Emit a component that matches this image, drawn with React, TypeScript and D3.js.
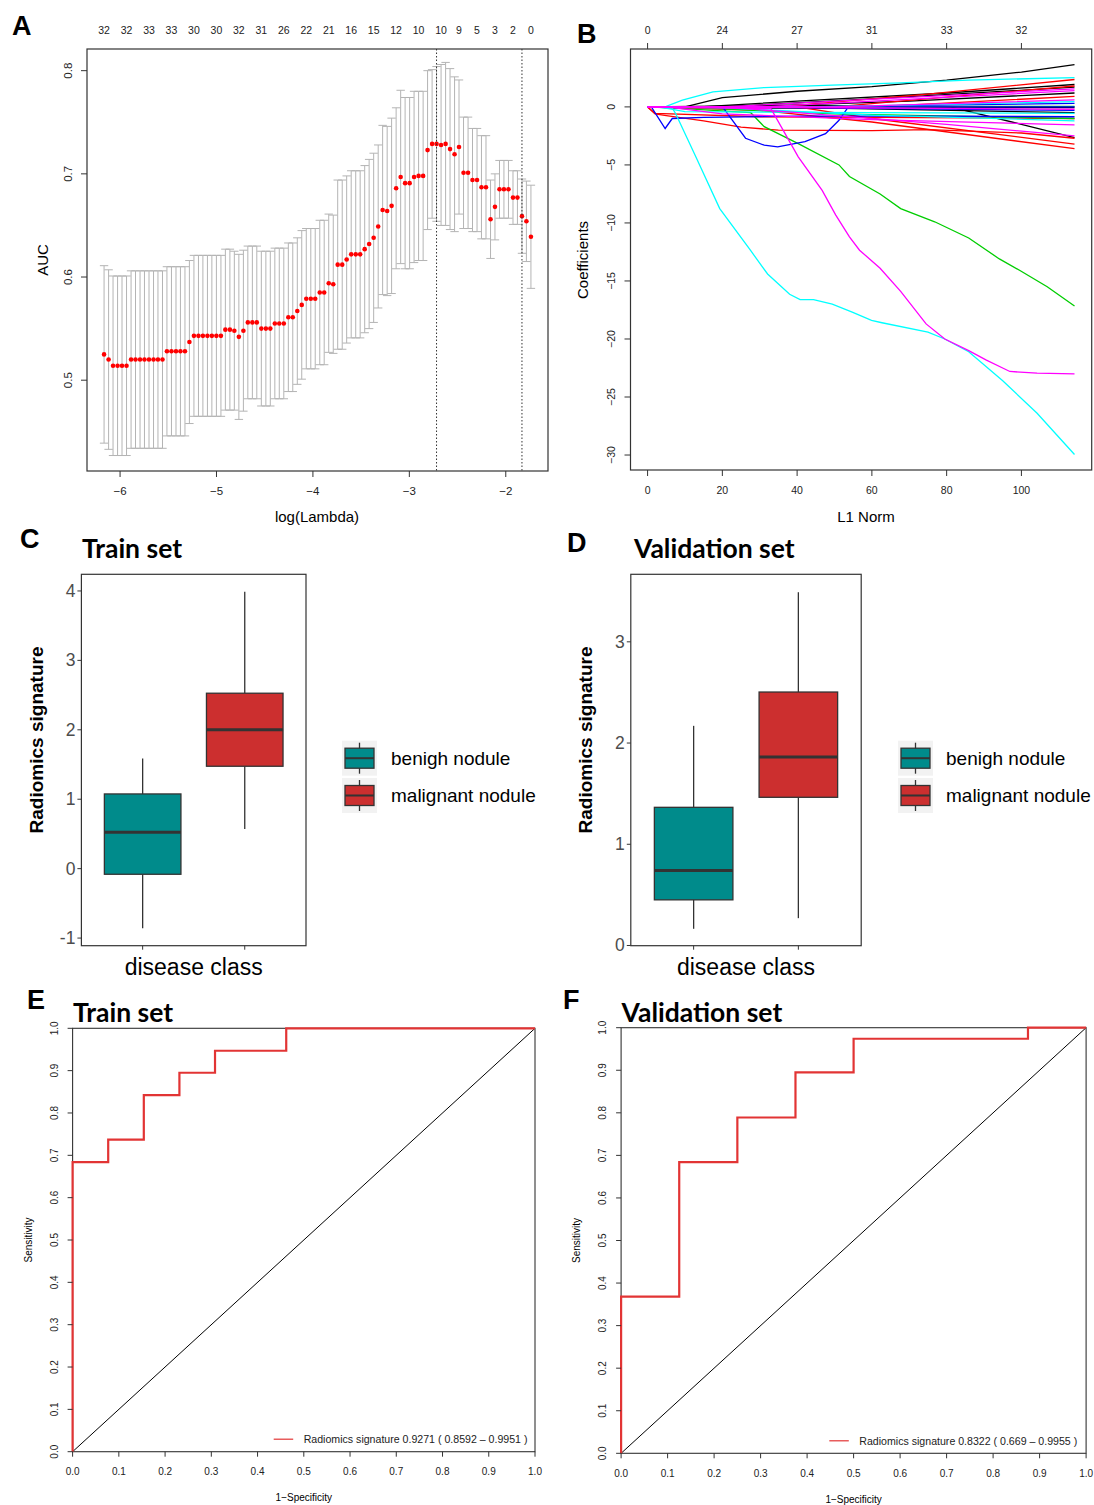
import React from 'react';
import * as d3 from 'd3';

// ---- panel A: cross-validated AUC vs log(lambda) ----
const logLambda = [
  -6.166, -6.119, -6.073, -6.026, -5.980, -5.933, -5.886, -5.840, -5.793, -5.747,
  -5.700, -5.653, -5.607, -5.560, -5.514, -5.467, -5.420, -5.374, -5.327, -5.281,
  -5.234, -5.187, -5.141, -5.094, -5.048, -5.001, -4.954, -4.908, -4.861, -4.815,
  -4.768, -4.721, -4.675, -4.628, -4.582, -4.535, -4.488, -4.442, -4.395, -4.349,
  -4.302, -4.255, -4.209, -4.162, -4.116, -4.069, -4.022, -3.976, -3.929, -3.883,
  -3.836, -3.789, -3.743, -3.696, -3.650, -3.603, -3.556, -3.510, -3.463, -3.417,
  -3.370, -3.323, -3.277, -3.230, -3.184, -3.137, -3.090, -3.044, -2.997, -2.951,
  -2.904, -2.857, -2.811, -2.764, -2.718, -2.671, -2.624, -2.578, -2.531, -2.485,
  -2.438, -2.391, -2.345, -2.298, -2.252, -2.205, -2.158, -2.112, -2.065, -2.019,
  -1.972, -1.925, -1.879, -1.832, -1.786, -1.739,
];
const cvAuc = [
  0.525, 0.520, 0.514, 0.514, 0.514, 0.514, 0.520, 0.520, 0.520, 0.520,
  0.520, 0.520, 0.520, 0.520, 0.528, 0.528, 0.528, 0.528, 0.528, 0.537,
  0.543, 0.543, 0.543, 0.543, 0.543, 0.543, 0.543, 0.549, 0.549, 0.548,
  0.542, 0.548, 0.556, 0.556, 0.556, 0.550, 0.550, 0.550, 0.555, 0.555,
  0.555, 0.561, 0.561, 0.567, 0.573, 0.579, 0.579, 0.579, 0.585, 0.585,
  0.594, 0.593, 0.612, 0.612, 0.617, 0.622, 0.622, 0.622, 0.627, 0.632,
  0.638, 0.649, 0.665, 0.664, 0.669, 0.686, 0.697, 0.691, 0.691, 0.697,
  0.698, 0.698, 0.723, 0.729, 0.729, 0.728, 0.729, 0.724, 0.719, 0.726,
  0.701, 0.701, 0.694, 0.694, 0.687, 0.687, 0.656, 0.668, 0.685, 0.685,
  0.685, 0.677, 0.677, 0.659, 0.654, 0.639,
];
const cvSd = [
  0.086, 0.087, 0.087, 0.087, 0.087, 0.087, 0.086, 0.086, 0.086, 0.086,
  0.086, 0.086, 0.086, 0.086, 0.082, 0.082, 0.082, 0.082, 0.082, 0.079,
  0.078, 0.078, 0.078, 0.078, 0.078, 0.078, 0.078, 0.078, 0.078, 0.077,
  0.080, 0.078, 0.074, 0.074, 0.074, 0.075, 0.075, 0.075, 0.073, 0.073,
  0.073, 0.072, 0.072, 0.071, 0.072, 0.068, 0.068, 0.068, 0.070, 0.070,
  0.067, 0.067, 0.082, 0.082, 0.081, 0.081, 0.081, 0.081, 0.081, 0.082,
  0.082, 0.079, 0.082, 0.082, 0.085, 0.078, 0.084, 0.083, 0.083, 0.083,
  0.082, 0.082, 0.077, 0.072, 0.075, 0.078, 0.079, 0.078, 0.075, 0.065,
  0.054, 0.054, 0.050, 0.050, 0.050, 0.050, 0.038, 0.032, 0.028, 0.028,
  0.028, 0.026, 0.026, 0.036, 0.039, 0.050,
];
const nzIdx = [0, 5, 10, 15, 20, 25, 30, 35, 40, 45, 50, 55, 60, 65, 70, 75, 79, 83, 87, 91, 95];
const nzLabels = ['32', '32', '33', '33', '30', '30', '32', '31', '26', '22', '21', '16', '15', '12', '10', '10', '9', '5', '3', '2', '0'];
const lambdaMinIdx = 74;
const lambda1seIdx = 93;
const aucXTicks = [-6, -5, -4, -3, -2];
const aucYTicks = [0.5, 0.6, 0.7, 0.8];

// ---- panel B: coefficient paths (knots: [L1 norm, coefficient]) ----
const blackPaths = [
  [[0, 0], [10, 0], [20, 0.8], [40, 1.35], [60, 1.75], [80, 2.3], [100, 3.0], [114.2, 3.65]],
  [[0, 0], [14, 0], [40, 0.5], [80, 1.2], [114.2, 1.93]],
  [[0, 0], [20, 0], [60, 0.7], [114.2, 1.7]],
  [[0, 0], [25, 0], [70, 0.5], [114.2, 1.2]],
  [[0, 0], [12, 0.05], [40, 0.12], [81, 0], [100, -1.5], [114.2, -2.65]],
  [[0, 0], [30, 0], [114.2, -0.5]],
  [[0, 0], [8, -0.1], [50, -0.1], [114.2, -0.05]],
];
const redPaths = [
  [[0, 0], [35, 0], [75, 1.1], [114.2, 2.36]],
  [[0, 0], [50, 0], [114.2, 1.8]],
  [[0, 0], [60, 0], [114.2, 0.9]],
  [[0, 0], [2, -0.6], [5, -0.75], [15, -1.2], [25, -1.75], [35, -2.0], [60, -2.05], [75, -1.95], [100, -2.25], [114.2, -2.7]],
  [[0, 0], [40, 0], [60, -1.0], [114.2, -3.2]],
  [[0, 0], [30, -0.3], [60, -1.3], [114.2, -3.6]],
  [[0, 0], [2, -0.55], [30, -0.85], [60, -0.9], [114.2, -1.0]],
];
const greenPaths = [
  [[0, 0], [2, 0], [27.6, -0.5], [31.2, -1.7], [40.3, -3.16], [51.2, -5.0], [54, -6.0], [62.2, -7.5], [67.7, -8.76], [76.8, -9.9], [85.9, -11.3], [94.1, -13.1], [99.6, -14.1], [106.9, -15.5], [114.2, -17.15]],
  [[0, 0], [5, 0], [114.2, 0.05]],
  [[0, 0], [8, 0], [50, -0.6], [114.2, -1.0]],
];
const bluePaths = [
  [[0, 0], [1, 0], [4.7, -1.86], [6.6, -1.0], [15, -0.9], [40, -0.8], [80, -0.8], [114.2, -0.85]],
  [[0, 0], [18, 0], [20.3, -0.1], [26.2, -2.7], [31.2, -3.3], [34.8, -3.45], [42.1, -3.0], [47.6, -2.3], [51.2, -1.15], [53.7, 0], [114.2, 0]],
  [[0, 0], [40, 0], [114.2, 0.3]],
  [[0, 0], [20, 0], [114.2, -0.3]],
];
const cyanPaths = [
  [[0, 0], [6.6, -0.1], [7.5, -0.57], [12.9, -4.3], [19.3, -8.76], [27.5, -12.35], [32.1, -14.4], [38, -16.15], [40.8, -16.6], [44.4, -16.6], [49.4, -17.0], [54.9, -17.7], [59.9, -18.4], [62.7, -18.6], [75, -19.4], [79.5, -20.0], [85.9, -21.1], [95, -23.6], [104.2, -26.4], [114.2, -29.95]],
  [[0, 0], [5, 0.05], [9.3, 0.58], [17.5, 1.3], [31.2, 1.67], [49.4, 1.87], [67.7, 2.07], [85.9, 2.3], [114.2, 2.53]],
  [[0, 0], [45, 0], [114.2, 0.45]],
  [[0, 0], [3, 0], [10, -0.4], [60, -0.5], [114.2, -0.55]],
  [[0, 0], [15, 0], [60, -0.7], [114.2, -1.2]],
];
const magentaPaths = [
  [[0, 0], [10, -0.05], [33, -0.15], [40.3, -4.3], [46.7, -7.2], [50.3, -9.3], [54, -11.2], [56.7, -12.35], [62.2, -13.9], [67.7, -15.9], [74.5, -18.7], [79.5, -20.0], [85.9, -21.0], [90.5, -21.8], [96.9, -22.8], [104.2, -22.95], [114.2, -23.0]],
  [[0, 0], [20, 0], [114.2, 1.55]],
  [[0, 0], [30, 0], [114.2, 1.4]],
  [[0, 0], [50, 0], [114.2, 0.6]],
  [[0, 0], [15, 0], [114.2, -0.2]],
  [[0, 0], [5, 0], [20, -0.6], [60, -1.1], [114.2, -1.55]],
  [[0, 0], [20, 0], [40, -0.5], [80, -1.5], [114.2, -2.5]],
];
const l1Ticks = [0, 20, 40, 60, 80, 100];
const dfLabels = ['0', '24', '27', '31', '33', '32'];
const coefTicks = [0, -5, -10, -15, -20, -25, -30];

// ---- panels C/D: boxplots ----
const classes = ['benigh nodule', 'malignant nodule'];
const trainMin = [-0.859, 0.572];
const trainQ1 = [-0.081, 1.475];
const trainMedian = [0.524, 2.0];
const trainQ3 = [1.076, 2.527];
const trainMax = [1.585, 3.99];
const validMin = [0.165, 0.27];
const validQ1 = [0.451, 1.464];
const validMedian = [0.74, 1.863];
const validQ3 = [1.365, 2.504];
const validMax = [2.17, 3.49];
const trainTicks = [-1, 0, 1, 2, 3, 4];
const validTicks = [0, 1, 2, 3];

// ---- panels E/F: ROC curves ----
const trainFpr = [0, 0, 0.077, 0.077, 0.154, 0.154, 0.231, 0.231, 0.308, 0.308, 0.462, 0.462, 1];
const trainTpr = [0, 0.684, 0.684, 0.737, 0.737, 0.842, 0.842, 0.895, 0.895, 0.947, 0.947, 1, 1];
const validFpr = [0, 0, 0.125, 0.125, 0.25, 0.25, 0.375, 0.375, 0.5, 0.5, 0.875, 0.875, 1];
const validTpr = [0, 0.368, 0.368, 0.684, 0.684, 0.789, 0.789, 0.895, 0.895, 0.974, 0.974, 1, 1];
const rocTicks = [0, 0.1, 0.2, 0.3, 0.4, 0.5, 0.6, 0.7, 0.8, 0.9, 1.0];

const FONT = '"Liberation Sans", Arial, Helvetica, sans-serif';
const TITLE_FONT = 'Lato, "Open Sans", sans-serif';
const AXIS = '#333';
const fmtMinus = (v) => (v < 0 ? '\u2212' + Math.abs(v) : String(v));

function Letter({ x, y, t }) {
  return (
    <text x={x} y={y} fontFamily={FONT} fontWeight="bold" fontSize={27} fill="#000">{t}</text>
  );
}

function RotText({ x, y, size, children, weight, fill }) {
  return (
    <text transform={`translate(${x},${y}) rotate(-90)`} textAnchor="middle" dominantBaseline="central"
      fontFamily={FONT} fontSize={size} fontWeight={weight || 'normal'} fill={fill || '#000'}>{children}</text>
  );
}

function PanelA() {
  const x = d3.scaleLinear().domain([-6.343, -1.562]).range([87, 548]);
  const y = d3.scaleLinear().domain([0.412, 0.821]).range([471, 49]);
  const cap = 4.2;
  return (
    <g>
      <Letter x={12} y={35} t="A" />
      {cvAuc.map((m, i) => {
        const cx = x(logLambda[i]);
        const hi = y(m + cvSd[i]);
        const lo = y(m - cvSd[i]);
        return (
          <g key={i} stroke="#b4b4b4" strokeWidth={1}>
            <line x1={cx} x2={cx} y1={hi} y2={lo} />
            <line x1={cx - cap} x2={cx + cap} y1={hi} y2={hi} />
            <line x1={cx - cap} x2={cx + cap} y1={lo} y2={lo} />
          </g>
        );
      })}
      {cvAuc.map((m, i) => (
        <circle key={i} cx={x(logLambda[i])} cy={y(m)} r={2.3} fill="#ff0000" />
      ))}
      {[lambdaMinIdx, lambda1seIdx].map((i) => (
        <line key={i} x1={x(logLambda[i])} x2={x(logLambda[i])} y1={49} y2={471}
          stroke="#333" strokeWidth={1} strokeDasharray="1.5,2" />
      ))}
      <rect x={87} y={49} width={461} height={422} fill="none" stroke={AXIS} strokeWidth={1.2} />
      {aucXTicks.map((t) => (
        <g key={t}>
          <line x1={x(t)} x2={x(t)} y1={471} y2={477} stroke={AXIS} />
          <text x={x(t)} y={491} textAnchor="middle" dominantBaseline="central" fontFamily={FONT} fontSize={11.5} fill="#222">{fmtMinus(t)}</text>
        </g>
      ))}
      {aucYTicks.map((t) => (
        <g key={t}>
          <line x1={81} x2={87} y1={y(t)} y2={y(t)} stroke={AXIS} />
          <RotText x={68} y={y(t)} size={11.5} fill="#222">{t.toFixed(1)}</RotText>
        </g>
      ))}
      {nzIdx.map((i, k) => (
        <text key={i} x={x(logLambda[i])} y={30} textAnchor="middle" dominantBaseline="central" fontFamily={FONT} fontSize={10.5} fill="#222">{nzLabels[k]}</text>
      ))}
      <RotText x={42} y={260} size={15}>AUC</RotText>
      <text x={317} y={516} textAnchor="middle" dominantBaseline="central" fontFamily={FONT} fontSize={15}>log(Lambda)</text>
    </g>
  );
}

function PanelB() {
  const x = d3.scaleLinear().domain([-4.57, 118.8]).range([630.5, 1091.7]);
  const y = d3.scaleLinear().domain([-31.29, 4.99]).range([470, 49]);
  const line = d3.line().x((d) => x(d[0])).y((d) => y(d[1]));
  const groups = [
    ['#000000', blackPaths],
    ['#ff0000', redPaths],
    ['#00cd00', greenPaths],
    ['#0000ff', bluePaths],
    ['#00ffff', cyanPaths],
    ['#ff00ff', magentaPaths],
  ];
  return (
    <g>
      <Letter x={577} y={43} t="B" />
      {groups.map(([col, paths], g) =>
        paths.map((p, i) => (
          <path key={g + '-' + i} d={line(p)} fill="none" stroke={col} strokeWidth={1.3} />
        ))
      )}
      <rect x={630.5} y={49} width={461.2} height={421} fill="none" stroke={AXIS} strokeWidth={1.2} />
      {l1Ticks.map((t, k) => (
        <g key={t}>
          <line x1={x(t)} x2={x(t)} y1={470} y2={476} stroke={AXIS} />
          <text x={x(t)} y={490} textAnchor="middle" dominantBaseline="central" fontFamily={FONT} fontSize={10.5} fill="#222">{t}</text>
          <line x1={x(t)} x2={x(t)} y1={49} y2={43} stroke={AXIS} />
          <text x={x(t)} y={30} textAnchor="middle" dominantBaseline="central" fontFamily={FONT} fontSize={10.5} fill="#222">{dfLabels[k]}</text>
        </g>
      ))}
      {coefTicks.map((t) => (
        <g key={t}>
          <line x1={624.5} x2={630.5} y1={y(t)} y2={y(t)} stroke={AXIS} />
          <RotText x={611} y={y(t)} size={10.5} fill="#222">{fmtMinus(t)}</RotText>
        </g>
      ))}
      <RotText x={582} y={260} size={15}>Coefficients</RotText>
      <text x={866} y={516} textAnchor="middle" dominantBaseline="central" fontFamily={FONT} fontSize={15}>L1 Norm</text>
    </g>
  );
}

const boxFill = ['#008b8b', '#cc2f2f'];

function BoxPanel({ letter, letterX, letterY, title, titleX, x0, x1, domain, ticks, mins, q1, med, q3, maxs, legendX, textX, yTitleX }) {
  const top = 574.3, bottom = 945.7;
  const y = d3.scaleLinear().domain(domain).range([bottom, top]);
  const xs = d3.scalePoint().domain(classes).range([x0, x1]).padding(0.6);
  const bw = xs.step() * 0.75;
  return (
    <g>
      <Letter x={letterX} y={letterY} t={letter} />
      <text x={titleX} y={558} fontFamily={TITLE_FONT} fontWeight="bold" fontSize={26.5} fill="#000">{title}</text>
      {classes.map((c, i) => {
        const cx = xs(c);
        return (
          <g key={c} stroke="#333" strokeWidth={1.3}>
            <line x1={cx} x2={cx} y1={y(maxs[i])} y2={y(q3[i])} />
            <line x1={cx} x2={cx} y1={y(q1[i])} y2={y(mins[i])} />
            <rect x={cx - bw / 2} y={y(q3[i])} width={bw} height={y(q1[i]) - y(q3[i])} fill={boxFill[i]} />
            <line x1={cx - bw / 2} x2={cx + bw / 2} y1={y(med[i])} y2={y(med[i])} strokeWidth={3} />
          </g>
        );
      })}
      <rect x={x0} y={top} width={x1 - x0} height={bottom - top} fill="none" stroke="#333" strokeWidth={1.2} />
      {ticks.map((t) => (
        <g key={t}>
          <line x1={x0 - 4} x2={x0} y1={y(t)} y2={y(t)} stroke="#333" />
          <text x={x0 - 6} y={y(t)} textAnchor="end" dominantBaseline="central" fontFamily={FONT} fontSize={17.5} fill="#4d4d4d">{t}</text>
        </g>
      ))}
      {classes.map((c) => (
        <line key={c} x1={xs(c)} x2={xs(c)} y1={bottom} y2={bottom + 4} stroke="#333" />
      ))}
      <text x={(x0 + x1) / 2} y={975} textAnchor="middle" fontFamily={FONT} fontSize={23} fill="#000">disease class</text>
      <RotText x={yTitleX} y={740} size={19} weight="bold">Radiomics signature</RotText>
      {classes.map((c, i) => {
        const ky = 740.7 + i * 37.3;
        const kc = legendX + 17.5;
        return (
          <g key={c}>
            <rect x={legendX} y={ky} width={35} height={35} fill="#f2f2f2" />
            <line x1={kc} x2={kc} y1={ky + 2} y2={ky + 33} stroke="#333" strokeWidth={1.3} />
            <rect x={legendX + 3} y={ky + 7.5} width={29} height={20} fill={boxFill[i]} stroke="#333" strokeWidth={1.3} />
            <line x1={legendX + 3} x2={legendX + 32} y1={ky + 17.5} y2={ky + 17.5} stroke="#333" strokeWidth={2} />
            <text x={textX} y={ky + 17.5} dominantBaseline="central" fontFamily={FONT} fontSize={19} fill="#000">{c}</text>
          </g>
        );
      })}
    </g>
  );
}

function RocPanel({ letter, letterX, title, x0, x1, y0, y1, fpr, tpr, legendText, legX, tickLabelX, sensX }) {
  const x = d3.scaleLinear().domain([0, 1]).range([x0, x1]);
  const y = d3.scaleLinear().domain([0, 1]).range([y1, y0]);
  const pts = fpr.map((f, i) => [f, tpr[i]]);
  const line = d3.line().x((d) => x(d[0])).y((d) => y(d[1]));
  const legY = y1 - 12.5;
  return (
    <g>
      <Letter x={letterX} y={1009} t={letter} />
      <text x={x0 + 0.5} y={1022} fontFamily={TITLE_FONT} fontWeight="bold" fontSize={26.5} fill="#000">{title}</text>
      <line x1={x(0)} y1={y(0)} x2={x(1)} y2={y(1)} stroke="#000" strokeWidth={1} />
      <rect x={x0} y={y0} width={x1 - x0} height={y1 - y0} fill="none" stroke={AXIS} strokeWidth={1.1} />
      <path d={line(pts)} fill="none" stroke="#e23434" strokeWidth={2.2} />
      {rocTicks.map((t) => (
        <g key={t}>
          <line x1={x(t)} x2={x(t)} y1={y1} y2={y1 + 5} stroke={AXIS} />
          <text x={x(t)} y={y1 + 20} textAnchor="middle" dominantBaseline="central" fontFamily={FONT} fontSize={10} fill="#222">{t.toFixed(1)}</text>
          <line x1={x0 - 5} x2={x0} y1={y(t)} y2={y(t)} stroke={AXIS} />
          <RotText x={tickLabelX} y={y(t)} size={10} fill="#222">{t.toFixed(1)}</RotText>
        </g>
      ))}
      <RotText x={sensX} y={(y0 + y1) / 2} size={10}>Sensitivity</RotText>
      <text x={(x0 + x1) / 2} y={y1 + 46} textAnchor="middle" dominantBaseline="central" fontFamily={FONT} fontSize={10}>1{'\u2212'}Specificity</text>
      <line x1={legX} x2={legX + 19.5} y1={legY} y2={legY} stroke="#e23434" strokeWidth={1.2} />
      <text x={legX + 30} y={legY} dominantBaseline="central" fontFamily={FONT} fontSize={10.6} fill="#222">{legendText}</text>
    </g>
  );
}

export default function App() {
  return (
    <svg width={1094} height={1505} style={{ position: 'absolute', left: 0, top: 0, background: '#fff' }}>
      <rect x={0} y={0} width={1094} height={1505} fill="#fff" />
      <PanelA />
      <PanelB />
      <BoxPanel letter="C" letterX={20} letterY={548} title="Train set" titleX={82} x0={81.4} x1={306}
        domain={[-1.11, 4.24]} ticks={trainTicks} mins={trainMin} q1={trainQ1} med={trainMedian} q3={trainQ3} maxs={trainMax}
        legendX={342} textX={391} yTitleX={36} />
      <BoxPanel letter="D" letterX={567} letterY={552} title="Validation set" titleX={634} x0={630.8} x1={861.2}
        domain={[-0.002, 3.667]} ticks={validTicks} mins={validMin} q1={validQ1} med={validMedian} q3={validQ3} maxs={validMax}
        legendX={898} textX={946} yTitleX={585} />
      <RocPanel letter="E" letterX={27} title="Train set" x0={72.6} x1={535} y0={1028.3} y1={1451.7}
        fpr={trainFpr} tpr={trainTpr} legendText={'Radiomics signature 0.9271 ( 0.8592 \u2013 0.9951 )'}
        legX={273.7} tickLabelX={54.4} sensX={28} />
      <RocPanel letter="F" letterX={563} title="Validation set" x0={621.1} x1={1086.1} y0={1027.7} y1={1453.3}
        fpr={validFpr} tpr={validTpr} legendText={'Radiomics signature 0.8322 ( 0.669 \u2013 0.9955 )'}
        legX={829.3} tickLabelX={602} sensX={576} />
    </svg>
  );
}
